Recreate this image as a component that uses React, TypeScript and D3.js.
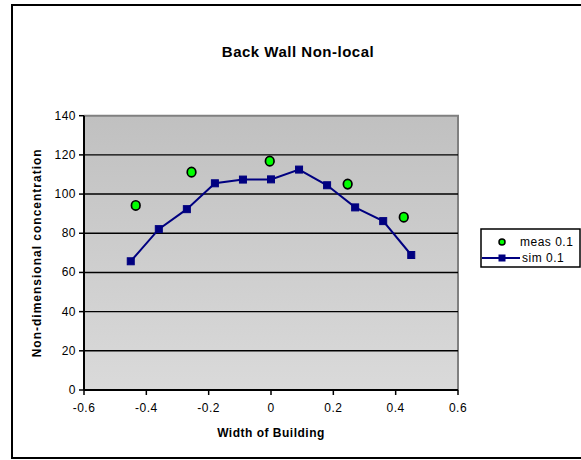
import React from "react";
import * as d3 from "d3";

// Simulated profile along the back wall
const simX = [-0.45, -0.36, -0.27, -0.18, -0.09, 0, 0.09, 0.18, 0.27, 0.36, 0.45];
const simY = [65.7, 82.1, 92.3, 105.5, 107.4, 107.5, 112.5, 104.5, 93.2, 86.2, 68.9];

// Measured points
const measX = [-0.434, -0.255, -0.004, 0.246, 0.426];
const measY = [94.2, 111.2, 116.8, 105.1, 88.2];

const xTicks = [-0.6, -0.4, -0.2, 0, 0.2, 0.4, 0.6];
const yTicks = [0, 20, 40, 60, 80, 100, 120, 140];

const seriesNames = ["meas 0.1", "sim 0.1"];

const W = 581;
const H = 460;
const plot = { left: 84, right: 458, top: 115.7, bottom: 390 };
const font = "'Liberation Sans', Arial, sans-serif";

export default function App() {
  const x = d3.scaleLinear().domain([-0.6, 0.6]).range([plot.left, plot.right]);
  const y = d3.scaleLinear().domain([0, 140]).range([plot.bottom, plot.top]);
  const line = d3
    .line<number>()
    .x((_, i) => x(simX[i]))
    .y((d) => y(d));

  return (
    <svg
      width={W}
      height={H}
      style={{ position: "absolute", left: 0, top: 0, background: "#fff" }}
      fontFamily={font}
    >
      <defs>
        <linearGradient id="plotBg" x1="0" y1="0" x2="0" y2="1">
          <stop offset="0" stopColor="#c0c0c0" />
          <stop offset="1" stopColor="#dadada" />
        </linearGradient>
      </defs>
      {/* chart frame */}
      <rect x={12} y={5} width={W + 10} height={453} fill="#fff" stroke="#000" strokeWidth={2} />

      {/* plot area */}
      <rect
        x={plot.left}
        y={plot.top}
        width={plot.right - plot.left}
        height={plot.bottom - plot.top}
        fill="url(#plotBg)"
      />
      <path
        d={`M${plot.left},${plot.top}H${plot.right}V${plot.bottom}`}
        fill="none"
        stroke="#808080"
        strokeWidth={2}
      />
      {yTicks.slice(1, -1).map((t) => (
        <line key={t} x1={plot.left} x2={plot.right} y1={y(t)} y2={y(t)} stroke="#000" strokeWidth={1.4} />
      ))}

      {/* axes */}
      <line x1={plot.left} x2={plot.left} y1={plot.top} y2={plot.bottom} stroke="#000" strokeWidth={2} />
      <line x1={plot.left} x2={plot.right} y1={plot.bottom} y2={plot.bottom} stroke="#000" strokeWidth={2} />
      {yTicks.map((t) => (
        <g key={t}>
          <line x1={plot.left - 5} x2={plot.left} y1={y(t)} y2={y(t)} stroke="#000" strokeWidth={1.5} />
          <text x={plot.left - 8} y={y(t) + 4} textAnchor="end" fontSize={12} letterSpacing={0.5} fill="#000">
            {t}
          </text>
        </g>
      ))}
      {xTicks.map((t) => (
        <g key={t}>
          <line x1={x(t)} x2={x(t)} y1={plot.bottom} y2={plot.bottom + 5} stroke="#000" strokeWidth={1.5} />
          <text x={x(t)} y={plot.bottom + 22} textAnchor="middle" fontSize={12} letterSpacing={0.5} fill="#000">
            {d3.format("")(t).replace("−", "-")}
          </text>
        </g>
      ))}

      {/* simulated series */}
      <path d={line(simY) ?? ""} fill="none" stroke="#000080" strokeWidth={2} />
      {simY.map((v, i) => (
        <rect key={i} x={x(simX[i]) - 3.5} y={y(v) - 3.5} width={7} height={7} fill="#000080" stroke="#000080" strokeWidth={1} />
      ))}

      {/* measured series */}
      {measY.map((v, i) => (
        <ellipse key={i} cx={x(measX[i])} cy={y(v)} rx={4.3} ry={4.7} fill="#00ff00" stroke="#000" strokeWidth={1.7} />
      ))}

      {/* titles */}
      <text x={298} y={57} textAnchor="middle" fontSize={15} letterSpacing={0.5} fontWeight="bold" fill="#000">
        Back Wall Non-local
      </text>
      <text x={271} y={437} textAnchor="middle" fontSize={12} letterSpacing={0.5} fontWeight="bold" fill="#000">
        Width of Building
      </text>
      <text
        transform={`translate(41,${(plot.top + plot.bottom) / 2}) rotate(-90)`}
        textAnchor="middle"
        fontSize={12}
        letterSpacing={1}
        fontWeight="bold"
        fill="#000"
      >
        Non-dimensional concentration
      </text>

      {/* legend */}
      <rect x={481} y={229} width={99} height={38} fill="#fff" stroke="#000" strokeWidth={1.5} />
      <ellipse cx={502} cy={242} rx={3} ry={3} fill="#00ff00" stroke="#000" strokeWidth={1.5} />
      <text x={520} y={246} fontSize={12} letterSpacing={0.5} fill="#000">
        {seriesNames[0]}
      </text>
      <line x1={482} x2={520} y1={258} y2={258} stroke="#000080" strokeWidth={2} />
      <rect x={498.5} y={254.5} width={7} height={7} fill="#000080" />
      <text x={522} y={262} fontSize={12} letterSpacing={0.5} fill="#000">
        {seriesNames[1]}
      </text>
    </svg>
  );
}
